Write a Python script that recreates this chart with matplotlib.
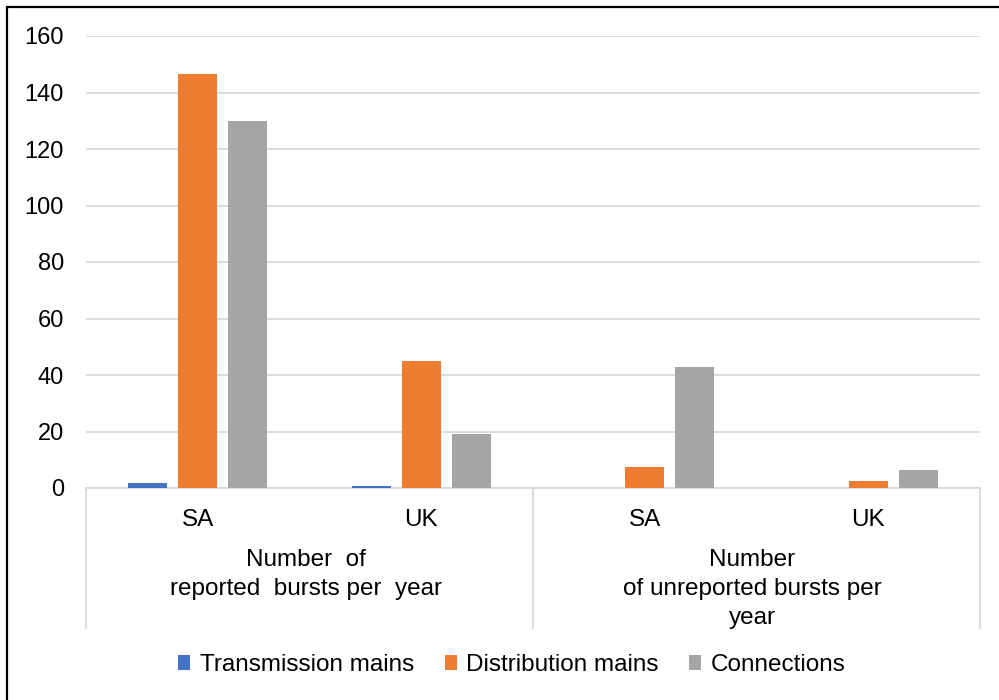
import matplotlib.pyplot as plt
import numpy as np
from matplotlib.patches import Rectangle

plt.rcParams['font.family'] = ['Liberation Sans', 'DejaVu Sans']

countries = ['SA', 'UK', 'SA', 'UK']
groups = ['Number  of\nreported  bursts per  year', 'Number\nof unreported bursts per\nyear']
series = ['Transmission mains', 'Distribution mains', 'Connections']
transmission = [1.8, 0.7, 0, 0]
distribution = [146.5, 45.0, 7.4, 2.5]
connections = [130.0, 19.0, 42.8, 6.4]
colors = ['#4472C4', '#ED7D31', '#A5A5A5']

fig = plt.figure(figsize=(9.99, 7), dpi=100)
ax = fig.add_axes([86 / 999, (700 - 488) / 700, (980 - 86) / 999, (488 - 36) / 700])

x = np.arange(len(countries))
width = 0.175
step = 0.224
for i, (vals, name) in enumerate(zip([transmission, distribution, connections], series)):
    ax.bar(x + (i - 1) * step, vals, width, color=colors[i], label=name, zorder=3)

ax.set_xlim(-0.5, 3.5)
ax.set_ylim(0, 160)
ax.set_yticks(range(0, 161, 20))
ax.tick_params(axis='y', length=0, pad=16, labelsize=17)
ax.tick_params(axis='x', length=0, pad=15, labelsize=17.5)
ax.set_xticks(x)
ax.set_xticklabels(countries)
ax.grid(axis='y', color='#D9D9D9', linewidth=1.3, zorder=0)
for s in ['top', 'right', 'left']:
    ax.spines[s].set_visible(False)
ax.spines['bottom'].set_color('#D9D9D9')
ax.spines['bottom'].set_linewidth(1.3)

# category separators and group labels
trans = ax.get_xaxis_transform()
sep_bottom = (488 - 628) / (488 - 36)
for xs in [-0.5, 1.5, 3.5]:
    ax.plot([xs, xs], [0, sep_bottom], transform=trans, color='#D9D9D9',
            linewidth=1.3, clip_on=False)
for gx, label in zip([0.485, 2.48], groups):
    ax.text(gx, (488 - 549) / 452, label, transform=trans, ha='center', va='top',
            fontsize=17.5, linespacing=1.4)

fig.legend(loc='center', bbox_to_anchor=(512 / 999, 1 - 665 / 700), ncol=3,
           frameon=False, fontsize=17.5, handlelength=0.5, handleheight=0.6,
           handletextpad=0.4, columnspacing=1.25)

# outer border (only top and left visible)
fig.patches.append(Rectangle((6.5 / 999, -0.1), 1.2, 1 - 6.5 / 700 + 0.1,
                             transform=fig.transFigure, fill=False,
                             edgecolor='black', linewidth=1.6))

fig.savefig('out.png', dpi=100)
